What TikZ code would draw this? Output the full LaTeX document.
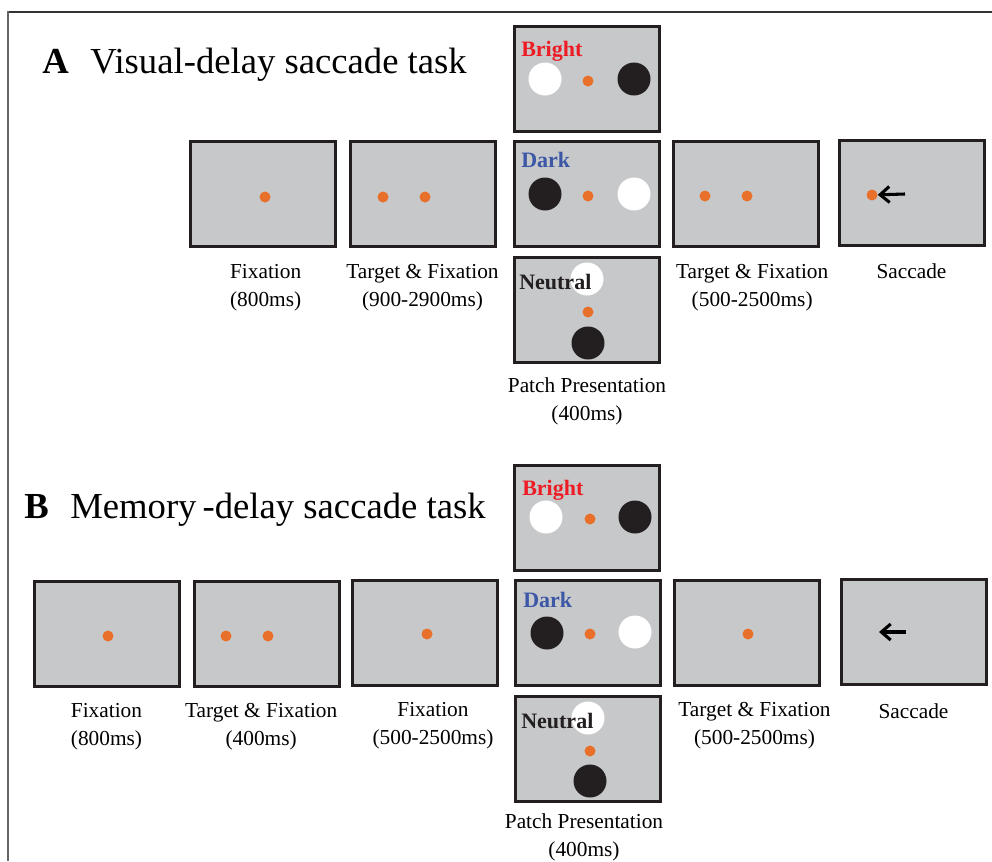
\documentclass[tikz,border=0pt]{standalone}
\usepackage{fontspec}
\setmainfont{Liberation Serif}
\usetikzlibrary{positioning,arrows.meta}
\definecolor{screengray}{RGB}{199,200,202}
\definecolor{fixorange}{RGB}{232,112,42}
\definecolor{brightred}{RGB}{237,28,36}
\definecolor{darkblue}{RGB}{59,87,166}
\definecolor{patchblack}{RGB}{35,31,32}
\begin{document}
\begin{tikzpicture}[x=0.75pt,y=0.75pt,yscale=-1,xscale=1,
  screen/.style={draw=patchblack,line width=2.25pt,fill=screengray,minimum width=108.75pt,minimum height=78.75pt,inner sep=0pt},
  fixdot/.style={circle,fill=fixorange,minimum size=8.25pt,inner sep=0pt},
  whitepatch/.style={circle,fill=white,minimum size=24.75pt,inner sep=0pt},
  blackpatch/.style={circle,fill=patchblack,minimum size=24.75pt,inner sep=0pt},
  tasklbl/.style={align=center,inner sep=0pt,font=\fontsize{16}{21}\selectfont},
  condlbl/.style={anchor=base west,inner sep=0pt,font=\fontsize{16.5}{19}\selectfont\bfseries},
  title/.style={anchor=base west,inner sep=0pt,font=\fontsize{27.5}{32}\selectfont},
  saccarrow/.style={line width=2.3pt,-{Straight Barb[length=7pt,width=12pt,line width=2.3pt]}}]
\useasboundingbox (0,0) rectangle (992,861);

%Frame
\draw [draw=black!80,line width=1.5pt] (7,11.5) -- (992,11.5) ;
\draw [draw=black!60,line width=1.9pt] (8,11) -- (8,861) ;

% ---------- A ----------
\node [title,font=\fontsize{27.5}{32}\selectfont\bfseries] (titA) at (42,73) {A};
\node [title] (nameA) at (90,73) {Visual-delay saccade task};

%Screens
\node [screen] (brightA) at (587,78.5) {};
\node [screen] (fixA) at (263,194) {};
\node [screen] (tfA) at (422.5,194) {};
\node [screen] (darkA) at (587,194) {};
\node [screen] (tftwoA) at (745.5,194) {};
\node [screen] (sacA) at (911.5,192.5) {};
\node [screen] (neutA) at (587,310) {};

%Fixation
\node [fixdot] (fixAdot) at (265,197) {};
%Target & Fixation
\node [fixdot] (tfAtgt) at (383,197) {};
\node [fixdot] (tfAdot) at (425,197) {};
%Bright
\node [whitepatch] (brightAw) at (545,79) {};
\node [fixdot] (brightAdot) at (588,81) {};
\node [blackpatch] (brightAb) at (634,79) {};
\node [condlbl,text=brightred] (brightAlbl) at (521,56) {Bright};
%Dark
\node [blackpatch] (darkAb) at (545,194) {};
\node [fixdot] (darkAdot) at (588,196) {};
\node [whitepatch] (darkAw) at (634,194) {};
\node [condlbl,text=darkblue] (darkAlbl) at (521,167) {Dark};
%Neutral
\node [whitepatch] (neutAw) at (587,279) {};
\node [fixdot] (neutAdot) at (588,312) {};
\node [blackpatch] (neutAb) at (588,343) {};
\node [condlbl,text=patchblack] (neutAlbl) at (519,289) {Neutral};
%Target & Fixation
\node [fixdot] (tftwoAtgt) at (705,196) {};
\node [fixdot] (tftwoAdot) at (747,196) {};
%Saccade
\node [fixdot] (sacAdot) at (872,195) {};
\coordinate (sacAtail) at (905,194);
\draw [saccarrow] (sacAtail) -- (sacAdot) ;

%Labels
\node [tasklbl,below=12pt of fixA,xshift=2pt] (fixAlbl) {Fixation\\(800ms)};
\node [tasklbl,below=12pt of tfA] (tfAlbl) {Target \& Fixation\\(900-2900ms)};
\node [tasklbl,below=10pt of neutA] (neutAcap) {Patch Presentation\\(400ms)};
\node [tasklbl,below=12pt of tftwoA,xshift=5pt] (tftwoAlbl) {Target \& Fixation\\(500-2500ms)};
\node [tasklbl,below=13pt of sacA] (sacAlbl) {Saccade};

% ---------- B ----------
\node [title,font=\fontsize{27.5}{32}\selectfont\bfseries] (titB) at (24,518) {B};
\node [title] (nameB) at (70,518) {Memory\,-delay saccade task};

%Screens
\node [screen] (brightB) at (587,517.5) {};
\node [screen] (fixB) at (106.5,633.5) {};
\node [screen] (tfB) at (266.5,634) {};
\node [screen] (fixtwoB) at (425,633) {};
\node [screen] (darkB) at (588,632.5) {};
\node [screen] (tftwoB) at (746.5,632.5) {};
\node [screen] (sacB) at (913.5,632) {};
\node [screen] (neutB) at (588,748.5) {};

%Fixation
\node [fixdot] (fixBdot) at (108,636) {};
%Target & Fixation
\node [fixdot] (tfBtgt) at (226,636) {};
\node [fixdot] (tfBdot) at (268,636) {};
%Fixation
\node [fixdot] (fixtwoBdot) at (427,634) {};
%Bright
\node [whitepatch] (brightBw) at (546,517) {};
\node [fixdot] (brightBdot) at (590,519) {};
\node [blackpatch] (brightBb) at (635,517) {};
\node [condlbl,text=brightred] (brightBlbl) at (522,495) {Bright};
%Dark
\node [blackpatch] (darkBb) at (547,633) {};
\node [fixdot] (darkBdot) at (590,634) {};
\node [whitepatch] (darkBw) at (635,632) {};
\node [condlbl,text=darkblue] (darkBlbl) at (523,607) {Dark};
%Neutral
\node [whitepatch] (neutBw) at (588,718) {};
\node [fixdot] (neutBdot) at (590,751) {};
\node [blackpatch] (neutBb) at (590,781) {};
\node [condlbl,text=patchblack] (neutBlbl) at (521,728) {Neutral};
%Target & Fixation
\node [fixdot] (tftwoBdot) at (748,634) {};
%Saccade
\coordinate (sacBtail) at (906,632);
\coordinate (sacBtip) at (879,632);
\draw [saccarrow] (sacBtail) -- (sacBtip) ;

%Labels
\node [tasklbl,below=12pt of fixB] (fixBlbl) {Fixation\\(800ms)};
\node [tasklbl,below=11pt of tfB,xshift=-4pt] (tfBlbl) {Target \& Fixation\\(400ms)};
\node [tasklbl,below=11pt of fixtwoB,xshift=6pt] (fixtwoBlbl) {Fixation\\(500-2500ms)};
\node [tasklbl,below=8pt of neutB,xshift=-3pt] (neutBcap) {Patch Presentation\\(400ms)};
\node [tasklbl,below=12pt of tftwoB,xshift=6pt] (tftwoBlbl) {Target \& Fixation\\(500-2500ms)};
\node [tasklbl,below=13pt of sacB] (sacBlbl) {Saccade};

\end{tikzpicture}
\end{document}
